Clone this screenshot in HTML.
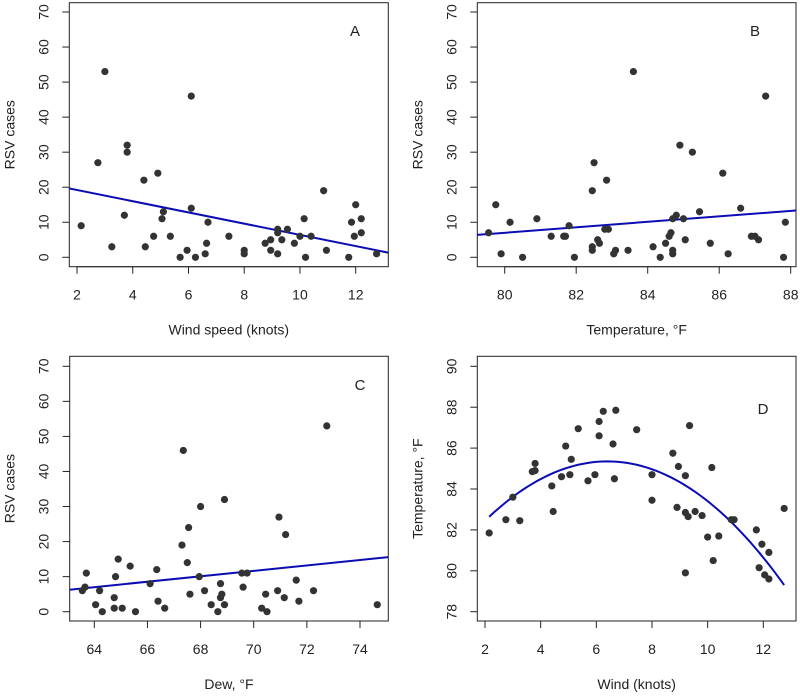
<!DOCTYPE html>
<html><head><meta charset="utf-8"><style>
body{margin:0;background:#fff}
svg text{font-family:"Liberation Sans",Arial,sans-serif;fill:#222}
</style></head><body>
<svg id="c" width="800" height="694" xmlns="http://www.w3.org/2000/svg"></svg>
<script>
// Panel A: wind speed vs RSV
const aWind=[2.15,2.75,3.0,3.25,3.7,3.8,3.8,4.4,4.45,4.75,4.9,5.05,5.1,5.35,5.7,5.95,6.1,6.1,6.25,6.6,6.65,6.7,7.45,8.0,8.0,8.75,8.95,8.95,9.2,9.2,9.2,9.35,9.55,9.8,10.0,10.15,10.2,10.4,10.85,10.95,11.75,11.85,11.95,12.0,12.2,12.2,12.75];
const aRsv=[9,27,53,3,12,32,30,22,3,6,24,11,13,6,0,2,46,14,0,1,4,10,6,2,1,4,2,5,8,7,1,5,8,4,6,11,0,6,19,2,0,10,6,15,11,7,1];
const aFit=[22.4,-1.6];
// Panel B: temperature vs RSV
const bTemp=[79.55,79.75,79.9,80.15,80.5,80.9,81.3,81.65,81.7,81.8,81.95,82.45,82.45,82.45,82.5,82.6,82.65,82.8,82.85,82.9,83.05,83.1,83.45,83.6,84.15,84.35,84.5,84.6,84.65,84.7,84.7,84.7,84.8,84.9,85.0,85.05,85.25,85.45,85.75,86.1,86.25,86.6,86.9,87.0,87.1,87.3,87.8,87.85];
const bRsv=[7,15,1,10,0,11,6,6,6,9,0,19,3,2,27,5,4,8,22,8,1,2,2,53,3,0,4,6,7,11,2,1,12,32,11,5,30,13,4,24,1,14,6,6,5,46,0,10];
const bFit=[-55.4,0.78];
// Panel C: dew vs RSV
const cDew=[63.55,63.65,63.7,64.05,64.2,64.3,64.75,64.75,64.8,64.9,65.05,65.35,65.55,66.1,66.35,66.4,66.65,67.3,67.35,67.5,67.55,67.6,67.95,68.0,68.15,68.4,68.65,68.75,68.75,68.8,68.9,68.9,69.55,69.6,69.75,70.3,70.45,70.5,70.9,70.95,71.15,71.2,71.6,71.7,72.25,72.75,74.65];
const cRsv=[6,7,11,2,6,0,1,4,10,15,1,13,0,8,12,3,1,19,46,14,24,5,10,30,6,2,0,8,4,5,32,2,11,7,11,1,5,0,6,27,4,22,9,3,6,53,2];
const cFit=[-42.6,0.775];
// Panel D: wind vs temperature
const dWind=[2.15,2.75,3.0,3.25,3.7,3.8,3.8,4.4,4.45,4.75,4.9,5.05,5.1,5.35,5.7,5.95,6.1,6.1,6.25,6.6,6.65,6.7,7.45,8.0,8.0,8.75,8.9,8.95,9.2,9.2,9.2,9.3,9.35,9.55,9.8,10.0,10.15,10.2,10.4,10.85,10.95,11.75,11.85,11.95,12.05,12.2,12.2,12.75];
const dTemp=[81.85,82.5,83.6,82.45,84.85,84.9,85.25,84.15,82.9,84.6,86.1,84.7,85.45,86.95,84.4,84.7,87.3,86.6,87.8,86.2,84.5,87.85,86.9,83.45,84.7,85.75,83.1,85.1,84.65,82.85,79.9,82.65,87.1,82.9,82.7,81.65,85.05,80.5,81.7,82.5,82.5,82.0,80.15,81.3,79.8,80.9,79.6,83.05];
const dQuad=[85.35,6.4,0.15]; // peak y, peak x, curvature
const ticksA=[2,4,6,8,10,12], ticksRsv=[0,10,20,30,40,50,60,70];
const ticksB=[80,82,84,86,88], ticksC=[64,66,68,70,72,74], ticksDy=[78,80,82,84,86,88,90];

const svg=document.getElementById('c');
const NS='http://www.w3.org/2000/svg';
function mk(tag,attrs,parent){const e=document.createElementNS(NS,tag);for(const k in attrs)e.setAttribute(k,attrs[k]);(parent||svg).appendChild(e);return e;}

function panel(p){
  const g=mk('g',{});
  
  
  const sx=v=>p.x0+(v-p.xa)*(p.x1-p.x0)/(p.xb-p.xa);
  const sy=v=>p.y0+(v-p.ya)*(p.y1-p.y0)/(p.yb-p.ya);
  const box=mk('rect',{x:p.L,y:p.T,width:p.R-p.L,height:p.B-p.T,fill:'none',stroke:'#222','stroke-width':1},g);
  
  
  const xa=mk('g',{},g);
  
  
  p.xt.forEach(t=>{const X=sx(t);
    mk('line',{x1:X,x2:X,y1:p.B,y2:p.B+7,stroke:'#222'},xa);
    const tx=mk('text',{x:X,y:p.B+33,'text-anchor':'middle','font-size':14},xa);tx.textContent=t;
    
    });
  mk('line',{x1:sx(p.xt[0]),x2:sx(p.xt[p.xt.length-1]),y1:p.B,y2:p.B,stroke:'#222'},xa);
  const ya=mk('g',{},g);
  
  
  p.yt.forEach(t=>{const Y=sy(t);
    mk('line',{x1:p.L,x2:p.L-7,y1:Y,y2:Y,stroke:'#222'},ya);
    const tx=mk('text',{x:p.L-21,y:Y,'text-anchor':'middle','font-size':14,transform:`rotate(-90 ${p.L-21} ${Y})`},ya);tx.textContent=t;
    
    });
  const xt=mk('text',{x:(p.L+p.R)/2,y:p.B+68,'text-anchor':'middle','font-size':14},g);xt.textContent=p.xlab;
  
  
  const yx=p.L-55,ym=(p.T+p.B)/2;
  const yt=mk('text',{x:yx,y:ym,'text-anchor':'middle','font-size':14,transform:`rotate(-90 ${yx} ${ym})`},g);yt.textContent=p.ylab;
  
  
  const lt=mk('text',{x:p.lx,y:p.ly,'text-anchor':'middle','font-size':15},g);lt.textContent=p.id;
  
  
  const cp=mk('clipPath',{id:'cp'+p.id},g);mk('rect',{x:p.L,y:p.T,width:p.R-p.L,height:p.B-p.T},cp);
  const fit=mk('path',{d:p.line(sx,sy),fill:'none',stroke:'#0c0cb4','stroke-width':2,'clip-path':`url(#cp${p.id})`},g);
  
  
  p.xs.forEach((v,i)=>{const c=mk('circle',{cx:sx(v),cy:sy(p.ys[i]),r:3.6,fill:'#333'},g);
    
    });
}
function linFn(fit,a,b){return (sx,sy)=>`M${sx(a)},${sy(fit[0]+fit[1]*a)}L${sx(b)},${sy(fit[0]+fit[1]*b)}`;}

panel({id:'A',L:69.3,R:388.3,T:2.7,B:266.7,x0:77,x1:355.7,xa:2,xb:12,y0:257.3,y1:12,ya:0,yb:70,
  xt:ticksA,yt:ticksRsv,xlab:'Wind speed (knots)',ylab:'RSV cases',lx:355,ly:36,xs:aWind,ys:aRsv,line:linFn(aFit,1.5,13.5)});
panel({id:'B',L:477.3,R:796,T:2.7,B:266.7,x0:504.7,x1:790.7,xa:80,xb:88,y0:257.3,y1:12,ya:0,yb:70,
  xt:ticksB,yt:ticksRsv,xlab:'Temperature, \u00B0F',ylab:'RSV cases',lx:755,ly:36,xs:bTemp,ys:bRsv,line:linFn(bFit,79,88.5)});
panel({id:'C',L:69.7,R:388.3,T:356.3,B:621,x0:94.3,x1:360,xa:64,xb:74,y0:611.7,y1:366.3,ya:0,yb:70,
  xt:ticksC,yt:ticksRsv,xlab:'Dew, \u00B0F',ylab:'RSV cases',lx:360,ly:390,xs:cDew,ys:cRsv,line:linFn(cFit,62.5,75.5)});
panel({id:'D',L:477.3,R:796,T:356.3,B:621,x0:485,x1:763.3,xa:2,xb:12,y0:611.7,y1:366.3,ya:78,yb:90,
  xt:ticksA,yt:ticksDy,xlab:'Wind (knots)',ylab:'Temperature, \u00B0F',lx:763,ly:414,xs:dWind,ys:dTemp,
  line:(sx,sy)=>{const lo=Math.min(...dWind),hi=Math.max(...dWind);let d='';for(let i=0;i<=60;i++){const x=lo+(hi-lo)*i/60;const y=dQuad[0]-dQuad[2]*(x-dQuad[1])**2;d+=(i?'L':'M')+sx(x)+','+sy(y);}return d;}});
</script>
</body></html>
